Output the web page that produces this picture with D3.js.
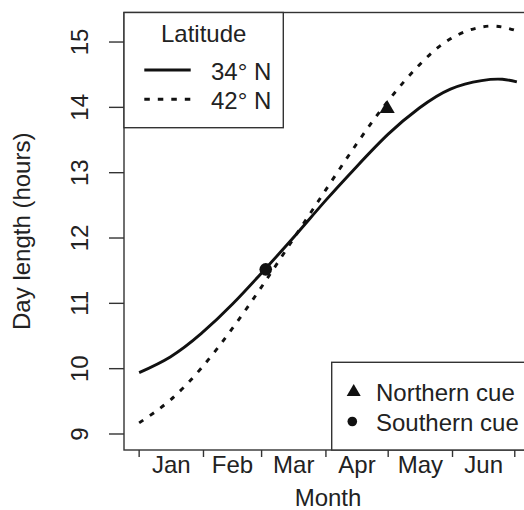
<html>
<script src="https://d3js.org/d3.v7.min.js"></script>
<style>
  body { margin: 0; background: #fff; }
  text { font-family: "Liberation Sans", Arial, sans-serif; fill: #222; }
</style>
<body>
</body>
</html>

<script type="text/javascript">

// day of year (0 = Jan 1) and day length in hours
var days   = [0, 15, 30, 45, 60, 75, 90, 105, 120, 135, 150, 165, 175, 182];
var lat34  = [9.94, 10.18, 10.54, 10.99, 11.50, 12.03, 12.58, 13.10, 13.59, 13.99, 14.28, 14.41, 14.43, 14.39];
var lat42  = [9.17, 9.52, 10.01, 10.62, 11.30, 12.02, 12.74, 13.45, 14.10, 14.65, 15.05, 15.23, 15.23, 15.17];

// cue points
var cueNames = ["Northern cue", "Southern cue"];
var cueDays  = [119.5, 61];
var cueHours = [13.98, 11.52];

// month axis: tick at the first day of each month, label in between
var monthStarts = [0, 31, 59, 90, 120, 151, 181];
var monthNames  = ["Jan", "Feb", "Mar", "Apr", "May", "Jun"];
var hourTicks   = [9, 10, 11, 12, 13, 14, 15];

var latNames = ["34\u00b0 N", "42\u00b0 N"];

// plot box (window.top is read-only, so no "top" here)
var W = 524, H = 510;
var pLeft = 124, pTop = 12.5, pRight = 532, pBottom = 450;
var fontSize = "24px";

var svg = d3.select("body")
	.append("svg")
	.attr("width", W)
	.attr("height", H);

var x_scale = d3.scaleLinear()
	.domain([-7.3, 189.3])
	.range([pLeft, pRight]);

var y_scale = d3.scaleLinear()
	.domain([8.755, 15.452])
	.range([pBottom, pTop]);

// plot box
svg.append("rect")
	.attr("x", pLeft).attr("y", pTop)
	.attr("width", pRight - pLeft).attr("height", pBottom - pTop)
	.attr("fill", "none")
	.attr("stroke", "#333")
	.attr("stroke-width", 1.4);

// y axis ticks + labels
svg.selectAll(".ytick").data(hourTicks)
	.enter().append("line")
	.attr("class", "ytick")
	.attr("x1", pLeft - 15).attr("x2", pLeft)
	.attr("y1", function(d){ return y_scale(d); })
	.attr("y2", function(d){ return y_scale(d); })
	.attr("stroke", "#333").attr("stroke-width", 1.4);

svg.selectAll(".ylab").data(hourTicks)
	.enter().append("text")
	.attr("class", "ylab")
	.attr("transform", function(d){ return "translate(88," + y_scale(d) + ") rotate(-90)"; })
	.attr("text-anchor", "middle")
	.style("font-size", fontSize)
	.text(function(d){ return d; });

// x axis ticks + month labels
svg.selectAll(".xtick").data(monthStarts)
	.enter().append("line")
	.attr("class", "xtick")
	.attr("x1", function(d){ return x_scale(d); })
	.attr("x2", function(d){ return x_scale(d); })
	.attr("y1", pBottom).attr("y2", pBottom + 7)
	.attr("stroke", "#333").attr("stroke-width", 1.4);

svg.selectAll(".xlab").data(monthNames)
	.enter().append("text")
	.attr("class", "xlab")
	.attr("x", function(d, i){ return x_scale((monthStarts[i] + monthStarts[i + 1]) / 2); })
	.attr("y", 473)
	.attr("text-anchor", "middle")
	.style("font-size", fontSize)
	.text(function(d){ return d; });

// axis titles
svg.append("text")
	.attr("x", (pLeft + pRight) / 2).attr("y", 506)
	.attr("text-anchor", "middle")
	.style("font-size", fontSize)
	.text("Month");

svg.append("text")
	.attr("transform", "translate(30," + ((pTop + pBottom) / 2) + ") rotate(-90)")
	.attr("text-anchor", "middle")
	.style("font-size", fontSize)
	.text("Day length (hours)");

// curves
var line = d3.line()
	.x(function(d){ return x_scale(d[0]); })
	.y(function(d){ return y_scale(d[1]); })
	.curve(d3.curveNatural);

svg.append("path")
	.datum(d3.zip(days, lat34))
	.attr("d", line)
	.attr("fill", "none")
	.attr("stroke", "#111")
	.attr("stroke-width", 2.9);

svg.append("path")
	.datum(d3.zip(days, lat42))
	.attr("d", line)
	.attr("fill", "none")
	.attr("stroke", "#111")
	.attr("stroke-width", 2.9)
	.attr("stroke-dasharray", "5,8");

// cue points
var tri = d3.symbol().type(d3.symbolTriangle).size(100);
svg.append("path")
	.attr("d", tri)
	.attr("transform", "translate(" + x_scale(cueDays[0]) + "," + y_scale(cueHours[0]) + ")")
	.attr("fill", "#111");

svg.append("circle")
	.attr("cx", x_scale(cueDays[1]))
	.attr("cy", y_scale(cueHours[1]))
	.attr("r", 6.3)
	.attr("fill", "#111");

// legend: latitude
var lg = svg.append("g");
lg.append("rect")
	.attr("x", pLeft).attr("y", pTop)
	.attr("width", 283.3 - pLeft).attr("height", 127.7 - pTop)
	.attr("fill", "#fff")
	.attr("stroke", "#333").attr("stroke-width", 1.4);
lg.append("text")
	.attr("x", 203.7).attr("y", 41.7)
	.attr("text-anchor", "middle")
	.style("font-size", fontSize)
	.text("Latitude");
var legY = [70, 99.3];
lg.selectAll(".legline").data(latNames)
	.enter().append("line")
	.attr("x1", 144.3).attr("x2", 190.7)
	.attr("y1", function(d, i){ return legY[i]; })
	.attr("y2", function(d, i){ return legY[i]; })
	.attr("stroke", "#111").attr("stroke-width", 2.9)
	.attr("stroke-dasharray", function(d, i){ return i == 1 ? "5.5,8" : null; });
lg.selectAll(".legtext").data(latNames)
	.enter().append("text")
	.attr("x", 211)
	.attr("y", function(d, i){ return legY[i] + 9.5; })
	.style("font-size", fontSize)
	.text(function(d){ return d; });

// legend: cues
var cg = svg.append("g");
cg.append("rect")
	.attr("x", 331.7).attr("y", 362.3)
	.attr("width", pRight - 331.7).attr("height", pBottom - 362.3)
	.attr("fill", "#fff")
	.attr("stroke", "#333").attr("stroke-width", 1.4);
var cueY = [392, 421.5];
cg.append("path")
	.attr("d", d3.symbol().type(d3.symbolTriangle).size(85))
	.attr("transform", "translate(353.7," + cueY[0] + ")")
	.attr("fill", "#111");
cg.append("circle")
	.attr("cx", 352.3).attr("cy", cueY[1])
	.attr("r", 4.8)
	.attr("fill", "#111");
cg.selectAll(".cuetext").data(cueNames)
	.enter().append("text")
	.attr("x", 376)
	.attr("y", function(d, i){ return cueY[i] + 9; })
	.style("font-size", fontSize)
	.text(function(d){ return d; });
</script>
